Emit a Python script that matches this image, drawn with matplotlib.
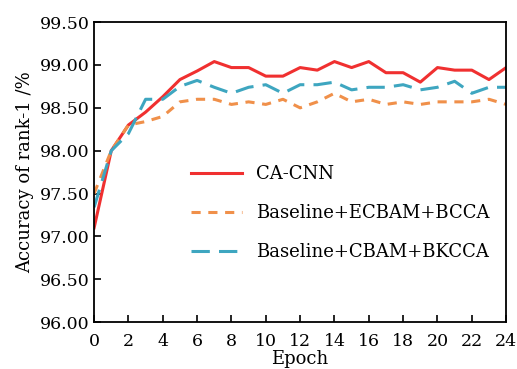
import numpy as np
import matplotlib
matplotlib.use("Agg")
import matplotlib.pyplot as plt

# =========================================================
# DATA
# =========================================================
epochs = list(range(0, 25))

ca_cnn = [97.10, 98.00, 98.30, 98.45, 98.63, 98.83, 98.93, 99.04, 98.97, 98.97,
          98.87, 98.87, 98.97, 98.94, 99.04, 98.97, 99.04, 98.91, 98.91, 98.80,
          98.97, 98.94, 98.94, 98.83, 98.97]

ecbam_bcca = [97.50, 98.00, 98.30, 98.34, 98.40, 98.57, 98.60, 98.60, 98.54, 98.57,
              98.54, 98.60, 98.50, 98.57, 98.67, 98.57, 98.60, 98.54, 98.57, 98.54,
              98.57, 98.57, 98.57, 98.60, 98.54]

cbam_bkcca = [97.34, 98.00, 98.20, 98.60, 98.60, 98.75, 98.82, 98.74, 98.67, 98.74,
              98.77, 98.67, 98.77, 98.77, 98.80, 98.71, 98.74, 98.74, 98.77, 98.71,
              98.74, 98.81, 98.67, 98.74, 98.74]

x_ticks = list(range(0, 25, 2))
y_ticks = [96.0, 96.5, 97.0, 97.5, 98.0, 98.5, 99.0, 99.5]

# =========================================================
# PLOT
# =========================================================
plt.rcParams["font.family"] = "DejaVu Serif"

fig = plt.figure(figsize=(5.17, 3.69), dpi=100)
ax = fig.add_axes([0.182, 0.127, 0.797, 0.813])

ax.plot(epochs, ca_cnn, color="#f03030", linewidth=2.2, label="CA-CNN")
ax.plot(epochs, ecbam_bcca, color="#f0904a", linewidth=2.2,
        linestyle=(0, (3, 2.5)), label="Baseline+ECBAM+BCCA")
ax.plot(epochs, cbam_bkcca, color="#3ea6c0", linewidth=2.2,
        linestyle=(0, (6, 3)), label="Baseline+CBAM+BKCCA")

ax.set_xlim(0, 24)
ax.set_ylim(96.0, 99.5)
ax.set_xticks(x_ticks)
ax.set_yticks(y_ticks)
ax.set_yticklabels([f"{v:.2f}" for v in y_ticks])
ax.tick_params(direction="in", length=5, width=1.2, labelsize=12.5, pad=3)
ax.tick_params(axis="x", pad=8)

for s in ax.spines.values():
    s.set_linewidth(1.3)

ax.set_xlabel("Epoch", fontsize=13, labelpad=0)
ax.set_ylabel("Accuracy of rank-1 /%", fontsize=13, labelpad=4)

ax.legend(loc="center", bbox_to_anchor=(0.598, 0.363), frameon=False,
          fontsize=13, handlelength=2.8, labelspacing=1.15)

fig.savefig("out.png", dpi=100)
